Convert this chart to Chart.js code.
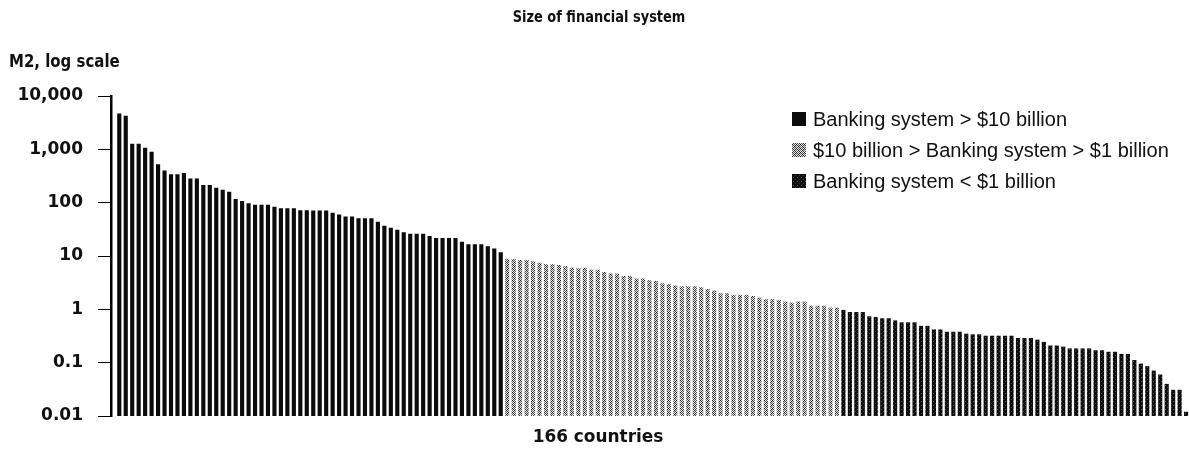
<!DOCTYPE html>
<html>
<head>
<meta charset="utf-8">
<title>Size of financial system</title>
<script src="https://cdn.jsdelivr.net/npm/chart.js@4.4.1/dist/chart.umd.min.js"></script>
<style>
  html, body { margin: 0; padding: 0; background: #fff; }
</style>
</head>
<body>
<canvas id="grafico" width="1189" height="449"></canvas>
<script>
// M2 per country, sorted, split by size of banking system
const bigBanks = [
    4700, 4250, 1270, 1270, 1070, 900, 525, 400, 340, 340,
    360, 283, 283, 214, 214, 190, 175, 161, 117, 107,
    98, 91, 91, 91, 84, 79, 79, 79, 72, 72,
    71, 71, 71, 65, 60, 55, 55, 51, 51, 51,
    44, 37, 34, 31, 28, 26, 26, 26, 23.7, 21.8,
    21.8, 21.8, 21.8, 18.6, 16.6, 16.6, 16.6, 15.2, 13.8, 11.7
];
const midBanks = [
    8.9, 8.8, 8.4, 8.4, 8.0, 7.5, 7.0, 7.0, 6.8, 6.5,
    6.0, 5.9, 6.0, 5.5, 5.5, 5.0, 4.7, 4.7, 4.2, 4.2,
    3.8, 3.8, 3.5, 3.4, 3.1, 2.95, 2.8, 2.7, 2.7, 2.7,
    2.6, 2.4, 2.25, 2.0, 2.0, 1.87, 1.87, 1.87, 1.78, 1.66,
    1.55, 1.55, 1.5, 1.4, 1.34, 1.4, 1.4, 1.17, 1.17, 1.17,
    1.08, 1.08
];
const smallBanks = [
    0.975, 0.89, 0.89, 0.89, 0.74, 0.72, 0.68, 0.68, 0.62, 0.57,
    0.57, 0.57, 0.49, 0.49, 0.42, 0.42, 0.38, 0.38, 0.38, 0.35,
    0.34, 0.34, 0.32, 0.32, 0.32, 0.32, 0.32, 0.29, 0.29, 0.29,
    0.27, 0.245, 0.21, 0.21, 0.20, 0.185, 0.185, 0.185, 0.185, 0.171,
    0.171, 0.16, 0.16, 0.146, 0.146, 0.112, 0.096, 0.086, 0.071, 0.060,
    0.040, 0.031, 0.031, 0.012
];
const seriesLabels = [
    'Banking system > $10 billion',
    '$10 billion > Banking system > $1 billion',
    'Banking system < $1 billion'
];
const tickValues = [0.01, 0.1, 1, 10, 100, 1000, 10000];
const tickLabels = ['0.01', '0.1', '1', '10', '100', '1,000', '10,000'];
const chartTitle = 'Size of financial system';
const yTitle = 'M2, log scale';
const xTitle = '166 countries';

// countries are numbered one after the other across the three groups
let country = 0;
function toPoints(values) {
    return values.map(v => ({ x: ++country, y: v }));
}

// small pixel patterns to imitate the printed screens
function makePattern(rows) {
    const c = document.createElement('canvas');
    c.width = rows[0].length;
    c.height = rows.length;
    const g = c.getContext('2d');
    rows.forEach((row, y) => row.forEach((col, x) => {
        g.fillStyle = col;
        g.fillRect(x, y, 1, 1);
    }));
    return g.createPattern(c, 'repeat');
}

const lightScreen = makePattern([
    ['#1e1e1e', '#e6e6e6', '#5a5a5a', '#f0f0f0'],
    ['#d2d2d2', '#3c3c3c', '#ececec', '#2a2a2a'],
    ['#6e6e6e', '#f4f4f4', '#202020', '#cfcfcf'],
    ['#f0f0f0', '#464646', '#dcdcdc', '#383838']
]);
const darkScreen = makePattern([
    ['#0e0e0e', '#0e0e0e', '#0e0e0e', '#0e0e0e'],
    ['#0e0e0e', '#5c5c5c', '#0e0e0e', '#0e0e0e'],
    ['#0e0e0e', '#0e0e0e', '#0e0e0e', '#0e0e0e'],
    ['#0e0e0e', '#0e0e0e', '#0e0e0e', '#3a3a3a']
]);

// bold condensed look: draw the text squeezed horizontally
function squeezedText(c, text, x, y, font, sx, align) {
    c.save();
    c.font = font;
    c.textAlign = align;
    c.translate(x, y);
    c.scale(sx, 1);
    c.fillText(text, 0, 0);
    c.restore();
}

const textPlugin = {
    id: 'textos',
    afterDraw(chart) {
        const c = chart.ctx;
        c.save();
        c.fillStyle = '#111';
        c.textBaseline = 'middle';

        squeezedText(c, chartTitle, 599, 18, 'bold 16px "DejaVu Sans"', 0.81, 'center');
        squeezedText(c, yTitle, 9, 63, 'bold 17px "DejaVu Sans"', 0.88, 'left');
        squeezedText(c, xTitle, 598, 437, 'bold 18px "DejaVu Sans"', 0.94, 'center');

        c.font = '20px "Liberation Sans"';
        c.textAlign = 'left';
        chart.data.datasets.forEach((ds, i) => {
            const y = 119 + i * 31;
            c.fillStyle = ds.backgroundColor;
            c.fillRect(792, y - 7, 14, 14);
            c.fillStyle = '#111';
            c.fillText(ds.label, 813, y + 1);
        });
        c.restore();
    }
};

const ctx = document.getElementById('grafico');

new Chart(ctx, {
    type: 'bar',
    data: {
        datasets: [
            { label: seriesLabels[0], data: toPoints(bigBanks), backgroundColor: '#0b0b0b' },
            { label: seriesLabels[1], data: toPoints(midBanks), backgroundColor: lightScreen },
            { label: seriesLabels[2], data: toPoints(smallBanks), backgroundColor: darkScreen }
        ]
    },
    options: {
        responsive: false,
        animation: false,
        devicePixelRatio: 1,
        layout: { padding: { top: 96, bottom: 33, left: 0, right: 0 } },
        datasets: {
            bar: {
                grouped: false,
                categoryPercentage: 1,
                barPercentage: 0.64,
                borderWidth: 0
            }
        },
        plugins: {
            legend: { display: false },
            title: { display: false },
            tooltip: { enabled: false }
        },
        scales: {
            x: {
                type: 'linear',
                offset: false,
                min: -0.28,
                max: 166.45,
                display: false
            },
            y: {
                type: 'logarithmic',
                min: 0.01,
                max: 10000,
                afterBuildTicks: (scale) => {
                    scale.ticks = tickValues.map(v => ({ value: v }));
                },
                afterFit: (scale) => {
                    scale.width = 111;
                    scale.paddingTop = 0;
                    scale.paddingBottom = 0;
                },
                border: { display: true, color: '#000', width: 2.5 },
                grid: {
                    drawOnChartArea: false,
                    drawTicks: true,
                    tickLength: 13,
                    color: '#000',
                    lineWidth: 1
                },
                ticks: {
                    autoSkip: false,
                    padding: 15,
                    color: '#111',
                    font: { family: 'DejaVu Sans', weight: 'bold', size: 17 },
                    callback: (value, index) => tickLabels[index]
                }
            }
        }
    },
    plugins: [textPlugin]
});
</script>
</body>
</html>
